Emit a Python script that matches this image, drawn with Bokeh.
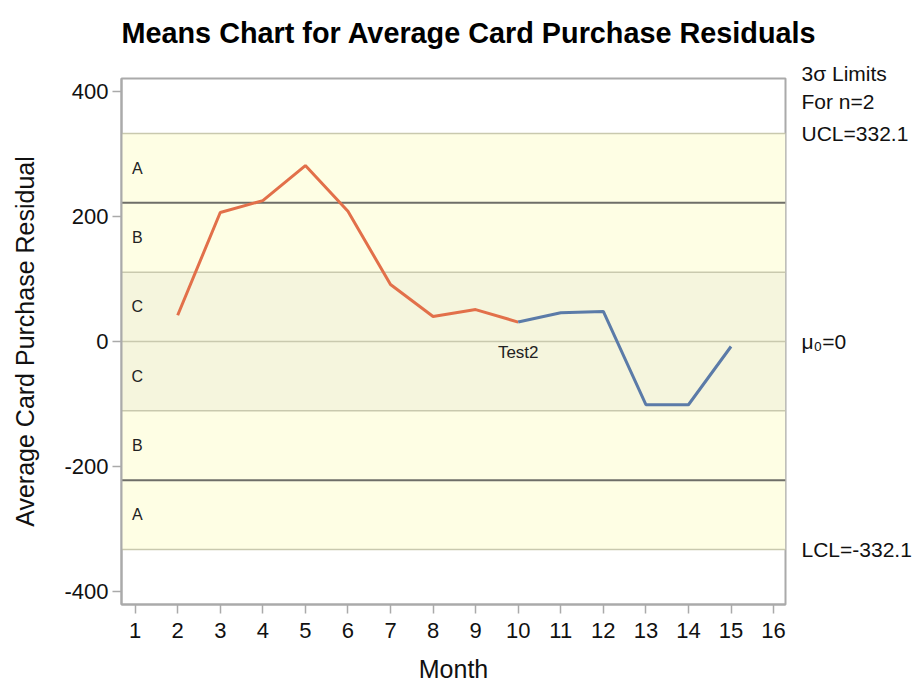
from bokeh.plotting import figure
from bokeh.models import (Range1d, FixedTicker, ColumnDataSource, PrintfTickFormatter,
                          Label, LinearAxis, Title)
from bokeh.embed import file_html
from bokeh.resources import INLINE

# ---- data ----
months = [2, 3, 4, 5, 6, 7, 8, 9, 10, 11, 12, 13, 14, 15]
residuals = [42, 206, 225, 281, 208, 91, 40, 51, 31, 46, 48, -101, -101, -8]
split_month = 10  # orange up to Test2 point, blue after
ucl = 332.1
lcl = -332.1
mu0 = 0
x_ticks = list(range(1, 17))
y_ticks = [-400, -200, 0, 200, 400]
zone_labels = ["A", "B", "C", "C", "B", "A"]
limit_header = "3σ Limits\nFor n=2"
limit_texts = ["UCL=332.1", "μ₀=0", "LCL=-332.1"]
title_text = "Means Chart for Average Card Purchase Residuals"

FONT = "Liberation Sans"
X0, X1 = 0.68, 16.28
Y0, Y1 = -420, 420

p = figure(width=914, height=687, output_backend="svg", toolbar_location=None,
           x_range=Range1d(X0, X1), y_range=Range1d(Y0, Y1), title=None,
           min_border_left=121, min_border_right=127, min_border_top=78,
           min_border_bottom=83)

# spacer between frame and title, then the title itself (stacked outward)
p.add_layout(Title(text=" ", text_font_size="20px", standoff=6,
                   text_font=FONT), "above")
p.add_layout(Title(text=title_text, text_font=FONT, text_font_size="28.8px",
                   text_font_style="bold", align="left", offset=0, standoff=0,
                   text_color="black"), "above")

sigma = (ucl - mu0) / 3.0
edges = [mu0 + k * sigma for k in (3, 2, 1, 0, -1, -2, -3)]
band_colors = ["#FEFEE4", "#FEFEE4", "#F5F5DD", "#F5F5DD", "#FEFEE4", "#FEFEE4"]
bands = ColumnDataSource(dict(top=edges[:-1], bottom=edges[1:], color=band_colors))
p.quad(left=X0, right=X1, top="top", bottom="bottom", fill_color="color",
       line_color=None, source=bands)

light_lines = [edges[0], edges[2], edges[3], edges[4], edges[6]]
for yv in light_lines:
    p.line([X0, X1], [yv, yv], line_color="#C9C9AE", line_width=1.5)
for yv in (edges[1], edges[5]):
    p.line([X0, X1], [yv, yv], line_color="#6E6E68", line_width=2)

centers = [(edges[i] + edges[i + 1]) / 2 for i in range(6)]
p.text(x=[1.05] * 6, y=centers, text=zone_labels, text_font_size="16px",
       text_align="center", text_baseline="middle", text_color="#222222",
       text_font={"value": FONT})

i_split = months.index(split_month)
p.line(months[:i_split + 1], residuals[:i_split + 1], line_color="#E2704A", line_width=3)
p.line(months[i_split:], residuals[i_split:], line_color="#5B7BA8", line_width=3)

p.add_layout(Label(x=split_month, y=mu0, text="Test2", text_align="center",
                   text_baseline="top", y_offset=-1, text_font=FONT,
                   text_font_size="17px", text_color="#222222"))

p.xgrid.visible = False
p.ygrid.visible = False
p.outline_line_color = "#AAAAAA"
p.outline_line_width = 2
for ax in (p.xaxis[0], p.yaxis[0]):
    ax.axis_line_color = "#AAAAAA"
    ax.axis_line_width = 2
    ax.major_tick_line_color = "#AAAAAA"
    ax.major_tick_line_width = 1.5
    ax.major_tick_out = 9
    ax.major_tick_in = 0
    ax.minor_tick_line_color = None
    ax.major_label_text_font = FONT
    ax.major_label_text_font_size = "22px"
    ax.major_label_text_color = "#111111"
    ax.axis_label_text_font = FONT
    ax.axis_label_text_font_size = "25px"
    ax.axis_label_text_font_style = "normal"
    ax.axis_label_text_color = "#111111"
p.xaxis.ticker = FixedTicker(ticks=x_ticks)
p.yaxis.ticker = FixedTicker(ticks=y_ticks)
p.yaxis.formatter = PrintfTickFormatter(format="%d")
p.xaxis.axis_label = "Month"
p.yaxis.axis_label = "Average Card Purchase Residual"
p.xaxis.major_label_standoff = 9
p.xaxis.axis_label_standoff = 14
p.yaxis.major_label_standoff = 4
p.yaxis.axis_label_standoff = 22

# right-hand limit annotations as a label-only axis
header_y = 406
right_pos = [header_y, ucl, mu0, lcl]
right_lab = [limit_header] + limit_texts
raxis = LinearAxis(ticker=FixedTicker(ticks=right_pos),
                   major_label_overrides={float(v) if v != int(v) else int(v): t
                                          for v, t in zip(right_pos, right_lab)})
raxis.axis_line_color = None
raxis.major_tick_line_color = None
raxis.minor_tick_line_color = None
raxis.major_tick_out = 0
raxis.major_tick_in = 0
raxis.major_label_standoff = 16
raxis.major_label_text_font = FONT
raxis.major_label_text_font_size = "21px"
raxis.major_label_text_color = "#111111"
raxis.major_label_text_line_height = 1.2
p.add_layout(raxis, "right")

open("out.html", "w").write(file_html(p, INLINE))
